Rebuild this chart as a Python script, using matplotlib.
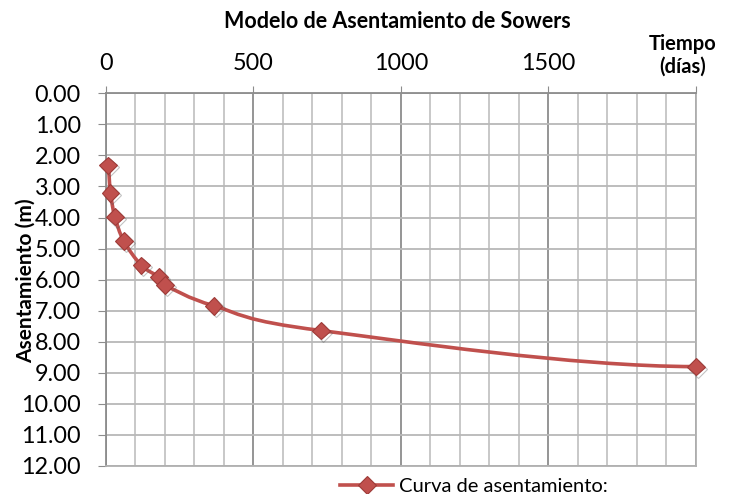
import numpy as np
import matplotlib.pyplot as plt
from matplotlib.path import Path
from matplotlib.patches import PathPatch
from matplotlib.lines import Line2D
import matplotlib.patheffects as pe

plt.rcParams['font.family'] = ['Lato', 'DejaVu Sans']

# Tiempo (días) y asentamiento (m)
tiempo = [7, 15, 30, 60, 120, 180, 200, 365, 730, 2000]
asentamiento = [2.32, 3.20, 3.97, 4.75, 5.54, 5.92, 6.17, 6.84, 7.64, 8.80]

x_ticks = [0, 500, 1000, 1500, 2000]
x_labels = ['0', '500', '1000', '1500', '']
y_ticks = np.arange(0, 13, 1)

red = '#C0504D'

fig = plt.figure(figsize=(7.35, 4.94), dpi=100)
ax = fig.add_axes([0.1442, 0.0567, 0.9469 - 0.1442, 0.8111 - 0.0567])

ax.set_xlim(0, 2000)
ax.set_ylim(12, 0)

# grid
ax.set_xticks(np.arange(0, 2001, 100), minor=True)
ax.grid(which='minor', axis='x', color='#C4C4C4', lw=1.3)
ax.grid(which='major', axis='x', color='#8C8C8C', lw=1.3)
ax.grid(which='major', axis='y', color='#B8B8B8', lw=1.3)
ax.set_axisbelow(True)

ax.xaxis.tick_top()
ax.set_xticks(x_ticks)
ax.set_xticklabels(x_labels)
ax.set_yticks(y_ticks)
ax.set_yticklabels(['%.2f' % v for v in y_ticks])
ax.tick_params(axis='x', which='major', direction='out', length=5, color='#8C8C8C',
               labelsize=16.8, pad=9)
ax.tick_params(axis='x', which='minor', length=0)
ax.tick_params(axis='y', direction='out', length=6, color='#8C8C8C',
               labelsize=16.8, pad=12)

for s in ['left', 'top']:
    ax.spines[s].set_color('#8C8C8C')
    ax.spines[s].set_linewidth(1.3)
for s in ['right', 'bottom']:
    ax.spines[s].set_color('#B0B0B0')
    ax.spines[s].set_linewidth(1.3)

# smoothed curve (Bezier through the data points)
px = np.array(tiempo, dtype=float)
py = np.array(asentamiento, dtype=float)
verts = [(px[0], py[0])]
codes = [Path.MOVETO]
n = len(px)
for i in range(n - 1):
    if i == 0:
        c1 = (px[0] + (px[1] - px[0]) / 3, py[0])
    else:
        c1 = (px[i] + (px[i + 1] - px[i - 1]) / 6, py[i] + (py[i + 1] - py[i - 1]) / 6)
    if i + 1 == n - 1:
        c2 = (px[i + 1] - (px[i + 1] - px[i]) / 3, py[i + 1])
    else:
        c2 = (px[i + 1] - (px[i + 2] - px[i]) / 6, py[i + 1] - (py[i + 2] - py[i]) / 6)
    verts += [c1, c2, (px[i + 1], py[i + 1])]
    codes += [Path.CURVE4] * 3
curve = PathPatch(Path(verts, codes), facecolor='none', edgecolor=red, lw=2.6,
                  capstyle='round', zorder=3, clip_on=False)
ax.add_patch(curve)

shadow = [pe.SimpleLineShadow(offset=(1.5, -1.5), shadow_color='#555555', alpha=0.35),
          pe.Normal()]
ax.plot(tiempo, asentamiento, linestyle='none', marker='D', markersize=9,
        markerfacecolor=red, markeredgecolor='#9E3B38', markeredgewidth=0.8,
        zorder=4, clip_on=False, path_effects=shadow)

fig.text(0.541, 0.957, 'Modelo de Asentamiento de Sowers', ha='center', va='center',
         fontsize=15.5, fontweight='bold')
fig.text(0.929, 0.888, 'Tiempo\n(días)', ha='center', va='center', fontsize=14.5,
         fontweight='bold', linespacing=1.15)
fig.text(0.035, 0.431, 'Asentamiento (m)', ha='center', va='center', rotation=90,
         fontsize=15, fontweight='bold')

handle = Line2D([], [], color=red, lw=2.6, marker='D', markersize=9,
                markerfacecolor=red, markeredgecolor='#9E3B38', markeredgewidth=0.8)
fig.legend([handle], ['Curva de asentamiento:'], loc='center',
           bbox_to_anchor=(0.645, 0.016), frameon=False, fontsize=14.5,
           handlelength=2.6, handletextpad=0.3, borderpad=0)

fig.savefig('out.png', dpi=100)
